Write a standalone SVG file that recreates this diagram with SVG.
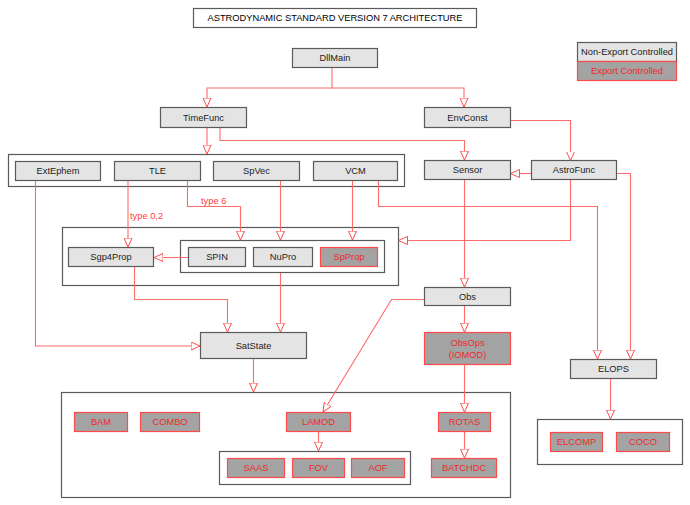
<svg xmlns="http://www.w3.org/2000/svg" width="690" height="505" viewBox="0 0 690 505">
<style>
text{font-family:"Liberation Sans",Arial,sans-serif;font-size:9.3px;text-anchor:middle;dominant-baseline:central}
.n rect{fill:#e4e4e4;stroke:#5a5a5a;stroke-width:1.2}
.n text{fill:#222}
.x rect{fill:#a3a3a3;stroke:#ff4a4a;stroke-width:1.2}
.x text{fill:#ee2b2b}
.g{fill:none;stroke:#5a5a5a;stroke-width:1.2}
.c path{fill:none;stroke:#ff6a6a;stroke-width:1.1;marker-end:url(#a)}
.c text{fill:#ff3b3b;text-anchor:start}
</style>
<defs>
<marker id="a" viewBox="0 0 10 10" refX="10" refY="5" markerWidth="9" markerHeight="9" markerUnits="userSpaceOnUse" orient="auto">
<path d="M0,0.5 L10,5 L0,9.5 z" fill="#fff" stroke="#ff4a4a" stroke-width="1.1"/>
</marker>
</defs>
<rect width="690" height="505" fill="#fff"/>
<g id="title"><rect x="193.5" y="8.5" width="283" height="19" fill="#fff" stroke="#5a5a5a" stroke-width="1.2"/><text x="335" y="18">ASTRODYNAMIC STANDARD VERSION 7 ARCHITECTURE</text></g>
<g id="legend"><g class="n"><rect x="577.5" y="42.5" width="99" height="19"/><text x="627" y="52">Non-Export Controlled</text></g><g class="x"><rect x="577.5" y="61.5" width="99" height="19"/><text x="627" y="71">Export Controlled</text></g></g>
<g id="groups">
<rect class="g" x="8.5" y="154.5" width="396" height="32"/>
<rect class="g" x="62.5" y="227.5" width="336" height="58"/>
<rect class="g" x="180.5" y="240.5" width="204" height="32"/>
<rect class="g" x="61.5" y="392.5" width="449" height="105"/>
<rect class="g" x="219.5" y="451.5" width="191" height="33"/>
<rect class="g" x="537.5" y="419.5" width="145" height="45"/>
</g>
<g class="c" id="connectors">
<path d="M332,67 V88 H207 V107"/>
<path d="M332,88 H464 V107"/>
<path d="M207,127 V154"/>
<path d="M220,127 V140.5 H464.5 V160"/>
<path d="M511,120.5 H570.5 V160.5"/>
<path d="M531,173.5 H510.5"/>
<path d="M616,173.5 H630.5 V359"/>
<path d="M378.5,180 V206.5 H597.5 V359"/>
<path d="M570.5,180 V240.5 H398.5"/>
<path d="M128,180 V247"/>
<path d="M187.5,180 V206.5 H240.5 V240"/>
<path d="M280.5,180 V240"/>
<path d="M352.5,180 V240"/>
<path d="M188,257.5 H154"/>
<path d="M134.5,266 V299.5 H227.5 V332"/>
<path d="M35.5,180 V346 H200"/>
<path d="M280.5,273 V332"/>
<path d="M253.5,358 V392"/>
<path d="M464.5,180 V287"/>
<path d="M424,299.5 H391.5 L323,412"/>
<path d="M464.5,305 V332"/>
<path d="M464.5,365 V412"/>
<path d="M318.5,431 V451"/>
<path d="M464.5,431 V458"/>
<path d="M610.5,378 V419"/>
<text x="130" y="216">type 0,2</text>
<text x="201" y="201">type 6</text>
</g>
<g id="DllMain" class="n"><rect x="292.5" y="48.5" width="85" height="19"/><text x="335" y="58">DllMain</text></g>
<g id="TimeFunc" class="n"><rect x="160.5" y="107.5" width="86" height="20"/><text x="203.5" y="117.5">TimeFunc</text></g>
<g id="EnvConst" class="n"><rect x="424.5" y="107.5" width="86" height="20"/><text x="467.5" y="117.5">EnvConst</text></g>
<g id="ExtEphem" class="n"><rect x="15.5" y="161.5" width="85" height="19"/><text x="58" y="171">ExtEphem</text></g>
<g id="TLE" class="n"><rect x="114.5" y="161.5" width="86" height="19"/><text x="157.5" y="171">TLE</text></g>
<g id="SpVec" class="n"><rect x="213.5" y="161.5" width="86" height="19"/><text x="256.5" y="171">SpVec</text></g>
<g id="VCM" class="n"><rect x="313.5" y="161.5" width="84" height="19"/><text x="355.5" y="171">VCM</text></g>
<g id="Sensor" class="n"><rect x="424.5" y="160.5" width="86" height="19"/><text x="467.5" y="170">Sensor</text></g>
<g id="AstroFunc" class="n"><rect x="531.5" y="160.5" width="85" height="19"/><text x="574" y="170">AstroFunc</text></g>
<g id="Sgp4Prop" class="n"><rect x="68.5" y="247.5" width="85" height="19"/><text x="111" y="257">Sgp4Prop</text></g>
<g id="SPIN" class="n"><rect x="188.5" y="247.5" width="57" height="19"/><text x="217" y="257">SPIN</text></g>
<g id="NuPro" class="n"><rect x="253.5" y="247.5" width="59" height="19"/><text x="283" y="257">NuPro</text></g>
<g id="SpProp" class="x"><rect x="320.5" y="247.5" width="57" height="19"/><text x="349" y="257">SpProp</text></g>
<g id="SatState" class="n"><rect x="200.5" y="332.5" width="106" height="26"/><text x="253.5" y="345.5">SatState</text></g>
<g id="Obs" class="n"><rect x="424.5" y="287.5" width="86" height="18"/><text x="467.5" y="296.5">Obs</text></g>
<g id="ObsOps" class="x"><rect x="424.5" y="332.5" width="86" height="32"/><text x="467.5" y="342.5">ObsOps</text><text x="467.5" y="354.5">(IOMOD)</text></g>
<g id="ELOPS" class="n"><rect x="570.5" y="359.5" width="86" height="19"/><text x="613.5" y="369">ELOPS</text></g>
<g id="BAM" class="x"><rect x="74.5" y="412.5" width="53" height="19"/><text x="101" y="422">BAM</text></g>
<g id="COMBO" class="x"><rect x="140.5" y="412.5" width="59" height="19"/><text x="170" y="422">COMBO</text></g>
<g id="LAMOD" class="x"><rect x="286.5" y="412.5" width="64" height="19"/><text x="318.5" y="422">LAMOD</text></g>
<g id="ROTAS" class="x"><rect x="438.5" y="412.5" width="52" height="19"/><text x="464.5" y="422">ROTAS</text></g>
<g id="SAAS" class="x"><rect x="227.5" y="458.5" width="57" height="19"/><text x="256" y="468">SAAS</text></g>
<g id="FOV" class="x"><rect x="292.5" y="458.5" width="52" height="19"/><text x="318.5" y="468">FOV</text></g>
<g id="AOF" class="x"><rect x="351.5" y="458.5" width="53" height="19"/><text x="378" y="468">AOF</text></g>
<g id="BATCHDC" class="x"><rect x="431.5" y="458.5" width="65" height="19"/><text x="464" y="468">BATCHDC</text></g>
<g id="ELCOMP" class="x"><rect x="550.5" y="432.5" width="52" height="19"/><text x="576.5" y="442">ELCOMP</text></g>
<g id="COCO" class="x"><rect x="616.5" y="432.5" width="53" height="19"/><text x="643" y="442">COCO</text></g>
</svg>
